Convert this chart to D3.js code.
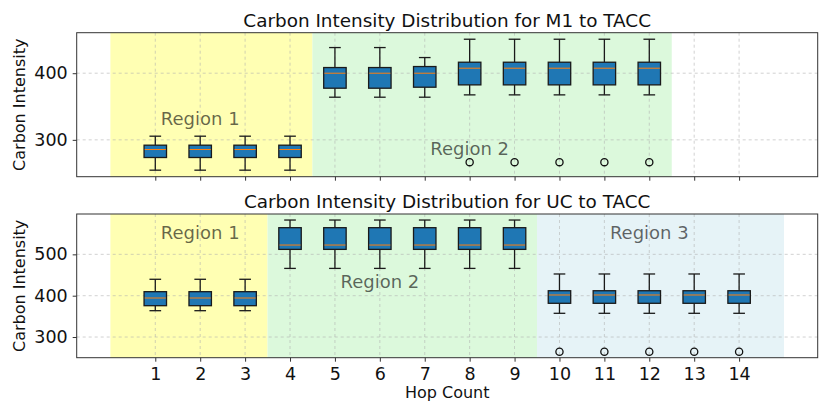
<!DOCTYPE html>
<html>
<head>
<meta charset="utf-8">
<script src="https://cdn.jsdelivr.net/npm/d3@7"></script>
<style>
  body { margin: 0; background: #fff; }
  text { font-family: "DejaVu Sans", sans-serif; }
</style>
</head>
<body>
<div id="chart"></div>
<script>
// hop counts shown on the x axis
var hopTicks = [1, 2, 3, 4, 5, 6, 7, 8, 9, 10, 11, 12, 13, 14];

// M1 -> TACC: [low whisker, q1, median, q3, high whisker]
var m1Hops = [1, 2, 3, 4, 5, 6, 7, 8, 9, 10, 11, 12];
var m1Stats = [
  [254.5, 273.5, 285.5, 292, 305.5],
  [254.5, 273.5, 285.5, 292, 305.5],
  [254.5, 273.5, 285.5, 292, 305.5],
  [254.5, 273.5, 285.5, 292, 305.5],
  [364, 377.5, 400, 408.5, 438.5],
  [364, 377.5, 400, 408.5, 438.5],
  [364, 379, 400, 410, 423.5],
  [367.5, 382.5, 407.5, 416.5, 451],
  [367.5, 382.5, 407.5, 416.5, 451],
  [367.5, 382.5, 407.5, 416.5, 451],
  [367.5, 382.5, 407.5, 416.5, 451],
  [367.5, 382.5, 407.5, 416.5, 451]
];
var m1Outliers = [[], [], [], [], [], [], [], [266.5], [266.5], [266.5], [266.5], [266.5]];

// UC -> TACC
var ucHops = [1, 2, 3, 4, 5, 6, 7, 8, 9, 10, 11, 12, 13, 14];
var ucStats = [
  [363.7, 375.8, 394.4, 409.7, 439.7],
  [363.7, 375.8, 394.4, 409.7, 439.7],
  [363.7, 375.8, 394.4, 409.7, 439.7],
  [466, 512, 522.5, 564.5, 583],
  [466, 512, 522.5, 564.5, 583],
  [466, 512, 522.5, 564.5, 583],
  [466, 512, 522.5, 564.5, 583],
  [466, 512, 522.5, 564.5, 583],
  [466, 512, 522.5, 564.5, 583],
  [357.4, 381.6, 401.7, 412, 452.5],
  [357.4, 381.6, 401.7, 412, 452.5],
  [357.4, 381.6, 401.7, 412, 452.5],
  [357.4, 381.6, 401.7, 412, 452.5],
  [357.4, 381.6, 401.7, 412, 452.5]
];
var ucOutliers = [[], [], [], [], [], [], [], [], [], [264.4], [264.4], [264.4], [264.4], [264.4]];

// shaded regions: [start, end, label, label x, label y]
var m1Regions = [
  [0, 4.5, "Region 1", 2, 322],
  [4.5, 12.5, "Region 2", 8, 278]
];
var ucRegions = [
  [0, 3.5, "Region 1", 2, 537],
  [3.5, 9.5, "Region 2", 6, 418],
  [9.5, 15, "Region 3", 12, 537]
];
var regionColors = ["#ffffb3", "#dcf9dc", "#e6f3f7"];

var m1Ticks = [300, 400];
var ucTicks = [300, 400, 500];

var W = 830, H = 415;
var left = 76.7, right = 817.7;

var svg = d3.select("#chart").append("svg")
  .attr("width", W).attr("height", H);

var x = d3.scaleLinear().domain([-0.75, 15.75]).range([left, right]);

function panel(top, bottom, yDomain, yTicks, hops, stats, outliers, regions, title, showX) {
  var y = d3.scaleLinear().domain(yDomain).range([bottom, top]);
  var g = svg.append("g");

  // regions
  g.selectAll("rect.reg").data(regions).enter().append("rect")
    .attr("x", function (d) { return x(d[0]); })
    .attr("width", function (d) { return x(d[1]) - x(d[0]); })
    .attr("y", top).attr("height", bottom - top)
    .attr("fill", function (d, i) { return regionColors[i]; });

  // grid
  g.selectAll("line.gx").data(hopTicks).enter().append("line")
    .attr("x1", function (d) { return x(d); }).attr("x2", function (d) { return x(d); })
    .attr("y1", top).attr("y2", bottom)
    .attr("stroke", "#b0b0b0").attr("stroke-width", 0.8).attr("stroke-dasharray", "3,3")
    .attr("opacity", 0.7);
  g.selectAll("line.gy").data(yTicks).enter().append("line")
    .attr("x1", left).attr("x2", right)
    .attr("y1", function (d) { return y(d); }).attr("y2", function (d) { return y(d); })
    .attr("stroke", "#b0b0b0").attr("stroke-width", 0.8).attr("stroke-dasharray", "3,3")
    .attr("opacity", 0.7);

  // region labels
  g.selectAll("text.rl").data(regions).enter().append("text")
    .attr("x", function (d) { return x(d[3]); })
    .attr("y", function (d) { return y(d[4]); })
    .attr("text-anchor", "middle")
    .style("font-size", "18px")
    .attr("fill", "#000").attr("fill-opacity", 0.6)
    .text(function (d) { return d[2]; });

  // boxes
  var bw = x(0.25) - x(0);
  var cw = x(0.13) - x(0);
  var b = g.selectAll("g.box").data(stats).enter().append("g");
  b.append("line")
    .attr("x1", function (d, i) { return x(hops[i]); }).attr("x2", function (d, i) { return x(hops[i]); })
    .attr("y1", function (d) { return y(d[0]); }).attr("y2", function (d) { return y(d[1]); })
    .attr("stroke", "#1a1a1a").attr("stroke-width", 1.3);
  b.append("line")
    .attr("x1", function (d, i) { return x(hops[i]); }).attr("x2", function (d, i) { return x(hops[i]); })
    .attr("y1", function (d) { return y(d[3]); }).attr("y2", function (d) { return y(d[4]); })
    .attr("stroke", "#1a1a1a").attr("stroke-width", 1.3);
  [0, 4].forEach(function (k) {
    b.append("line")
      .attr("x1", function (d, i) { return x(hops[i]) - cw; }).attr("x2", function (d, i) { return x(hops[i]) + cw; })
      .attr("y1", function (d) { return y(d[k]); }).attr("y2", function (d) { return y(d[k]); })
      .attr("stroke", "#1a1a1a").attr("stroke-width", 1.3);
  });
  b.append("rect")
    .attr("x", function (d, i) { return x(hops[i]) - bw; })
    .attr("width", 2 * bw)
    .attr("y", function (d) { return y(d[3]); })
    .attr("height", function (d) { return y(d[1]) - y(d[3]); })
    .attr("fill", "#1f77b4").attr("stroke", "#1a1a1a").attr("stroke-width", 1.3);
  b.append("line")
    .attr("x1", function (d, i) { return x(hops[i]) - bw + 0.7; }).attr("x2", function (d, i) { return x(hops[i]) + bw - 0.7; })
    .attr("y1", function (d) { return y(d[2]); }).attr("y2", function (d) { return y(d[2]); })
    .attr("stroke", "#ff7f0e").attr("stroke-width", 1);

  // outliers
  outliers.forEach(function (arr, i) {
    g.selectAll(null).data(arr).enter().append("circle")
      .attr("cx", x(hops[i])).attr("cy", function (d) { return y(d); })
      .attr("r", 3.6).attr("fill", "none").attr("stroke", "#111").attr("stroke-width", 1.3);
  });

  // axes
  var ax = g.append("g").attr("transform", "translate(0," + bottom + ")")
    .call(d3.axisBottom(x).tickValues(hopTicks).tickSize(4).tickPadding(6)
      .tickFormat(showX ? d3.format("d") : function () { return ""; }));
  var ay = g.append("g").attr("transform", "translate(" + left + ",0)")
    .call(d3.axisLeft(y).tickValues(yTicks).tickSize(4).tickPadding(5));
  [ax, ay].forEach(function (a) {
    a.select(".domain").remove();
    a.selectAll("line").attr("stroke", "#333");
    a.selectAll("text").style("font-size", "17.5px").attr("fill", "#111").style("font-family", "DejaVu Sans");
  });

  // frame
  g.append("rect").attr("x", left).attr("y", top)
    .attr("width", right - left).attr("height", bottom - top)
    .attr("fill", "none").attr("stroke", "#333").attr("stroke-width", 1);

  g.append("text").attr("x", (left + right) / 2).attr("y", top - 6)
    .attr("text-anchor", "middle").style("font-size", "18.4px").attr("fill", "#111")
    .text(title);

  g.append("text")
    .attr("transform", "translate(25," + ((top + bottom) / 2) + ") rotate(-90)")
    .attr("text-anchor", "middle").style("font-size", "16px").attr("fill", "#111")
    .text("Carbon Intensity");
}

panel(32.7, 176.7, [244.7, 460.8], m1Ticks, m1Hops, m1Stats, m1Outliers, m1Regions,
  "Carbon Intensity Distribution for M1 to TACC", false);
panel(214, 357.7, [250, 597.6], ucTicks, ucHops, ucStats, ucOutliers, ucRegions,
  "Carbon Intensity Distribution for UC to TACC", true);

svg.append("text").attr("x", (left + right) / 2).attr("y", 398)
  .attr("text-anchor", "middle").style("font-size", "16px").attr("fill", "#111")
  .text("Hop Count");
</script>
</body>
</html>
